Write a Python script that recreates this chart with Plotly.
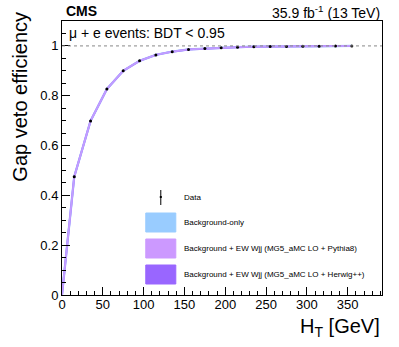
import plotly.graph_objects as go

# HT threshold points and gap veto efficiency
ht_points = [15, 35, 55, 75, 95, 115, 135, 155, 175, 195, 215, 235, 255, 275, 295, 315, 335, 355]
data_eff = [0.475, 0.699, 0.827, 0.900, 0.940, 0.964, 0.977, 0.986, 0.990, 0.993,
            0.995, 0.997, 0.998, 0.998, 0.999, 0.999, 0.9995, 1.0]
data_err = [0.004, 0.004, 0.003, 0.003, 0.002, 0.002, 0.002, 0.001, 0.001, 0.001,
            0.001, 0.001, 0.001, 0.001, 0.001, 0.001, 0.001, 0.001]

# MC curves (start from zero at HT = 0)
mc_ht = [0] + ht_points
bkg_only = [0.0] + data_eff
bkg_pythia = [0.0] + data_eff
bkg_herwig = [0.0] + data_eff

font = "Liberation Sans, Arial, sans-serif"

fig = go.Figure()
fig.add_trace(go.Scatter(x=mc_ht, y=bkg_only, mode="lines",
                         line=dict(color="#99ccff", width=2.3), showlegend=False))
fig.add_trace(go.Scatter(x=mc_ht, y=bkg_herwig, mode="lines",
                         line=dict(color="#a577ff", width=2.0), showlegend=False))
fig.add_trace(go.Scatter(x=mc_ht, y=bkg_pythia, mode="lines",
                         line=dict(color="#c29dff", width=1.8), showlegend=False))
fig.add_trace(go.Scatter(x=ht_points, y=data_eff, mode="markers",
                         marker=dict(color="black", size=3),
                         error_y=dict(type="data", array=data_err, color="black",
                                      thickness=1, width=0),
                         showlegend=False))

# dotted line at efficiency = 1
fig.add_shape(type="line", xref="x", yref="y", x0=0, x1=392, y0=1, y1=1,
              line=dict(color="#888888", width=1, dash="dot"))

# legend drawn by hand
def px_x(p):
    return (p - 62.3) / 319.7

def px_y(p):
    return (295 - p) / 274

fig.add_shape(type="line", xref="paper", yref="paper", x0=px_x(161), x1=px_x(161),
              y0=px_y(190), y1=px_y(205), line=dict(color="black", width=1))
fig.add_shape(type="rect", xref="paper", yref="paper", x0=px_x(160), x1=px_x(162),
              y0=px_y(196), y1=px_y(198), line=dict(width=0), fillcolor="black")
boxes = [("#99ccff", 213, 232, "Background-only"),
         ("#cc99ff", 239, 258, "Background + EW Wjj (MG5_aMC LO + Pythia8)"),
         ("#9966ff", 265, 284, "Background + EW Wjj (MG5_aMC LO + Herwig++)")]
for col, top, bot, label in boxes:
    fig.add_shape(type="rect", xref="paper", yref="paper", x0=px_x(146), x1=px_x(176),
                  y0=px_y(bot), y1=px_y(top), fillcolor=col,
                  line=dict(color=col, width=1))
    fig.add_annotation(xref="paper", yref="paper", x=px_x(182), y=px_y((top + bot) / 2),
                       text=label, showarrow=False, xanchor="left", yanchor="middle",
                       font=dict(family=font, size=8, color="black"))
fig.add_annotation(xref="paper", yref="paper", x=px_x(182), y=px_y(197), text="Data",
                   showarrow=False, xanchor="left", yanchor="middle",
                   font=dict(family=font, size=8, color="black"))

# texts
fig.add_annotation(xref="paper", yref="paper", x=px_x(64), y=px_y(11), text="<b>CMS</b>",
                   showarrow=False, xanchor="left", yanchor="middle",
                   font=dict(family=font, size=14, color="black"))
fig.add_annotation(xref="paper", yref="paper", x=1.0, y=px_y(12),
                   text="35.9 fb<sup>-1</sup> (13 TeV)", showarrow=False,
                   xanchor="right", yanchor="middle",
                   font=dict(family=font, size=14, color="black"))
fig.add_annotation(xref="paper", yref="paper", x=px_x(67), y=px_y(33),
                   text="μ + e events: BDT < 0.95", showarrow=False,
                   xanchor="left", yanchor="middle",
                   font=dict(family=font, size=14, color="black"))
fig.add_annotation(xref="paper", yref="paper", x=px_x(20), y=px_y(10),
                   text="Gap veto efficiency", textangle=-90, showarrow=False,
                   xanchor="center", yanchor="top",
                   font=dict(family=font, size=20, color="black"))
fig.add_annotation(xref="paper", yref="paper", x=1.0, y=px_y(313),
                   text="H<sub>T</sub> [GeV]", showarrow=False,
                   xanchor="right", yanchor="top",
                   font=dict(family=font, size=20, color="black"))

fig.update_xaxes(range=[0, 392], tickvals=[0, 50, 100, 150, 200, 250, 300, 350],
                 ticks="inside", ticklen=8, tickcolor="black", showgrid=False,
                 zeroline=False, showline=True, linecolor="black", linewidth=1, mirror=True,
                 minor=dict(dtick=10, ticks="inside", ticklen=4, tickcolor="black"),
                 ticklabelstandoff=-3,
                 tickfont=dict(family=font, size=13, color="black"))
fig.update_yaxes(range=[0, 1.1], tickvals=[0, 0.2, 0.4, 0.6, 0.8, 1],
                 ticktext=["0", "0.2", "0.4", "0.6", "0.8", "1"],
                 ticks="inside", ticklen=8, tickcolor="black", showgrid=False,
                 zeroline=False, showline=True, linecolor="black", linewidth=1, mirror=True,
                 minor=dict(dtick=0.05, ticks="inside", ticklen=4, tickcolor="black"),
                 tickfont=dict(family=font, size=13, color="black"))
fig.update_layout(width=399, height=347, margin=dict(l=62, r=17, t=21, b=52),
                  plot_bgcolor="white", paper_bgcolor="white")
fig.write_html("out.html", config={"displayModeBar": False},
               post_script="document.body.style.margin='0';")
